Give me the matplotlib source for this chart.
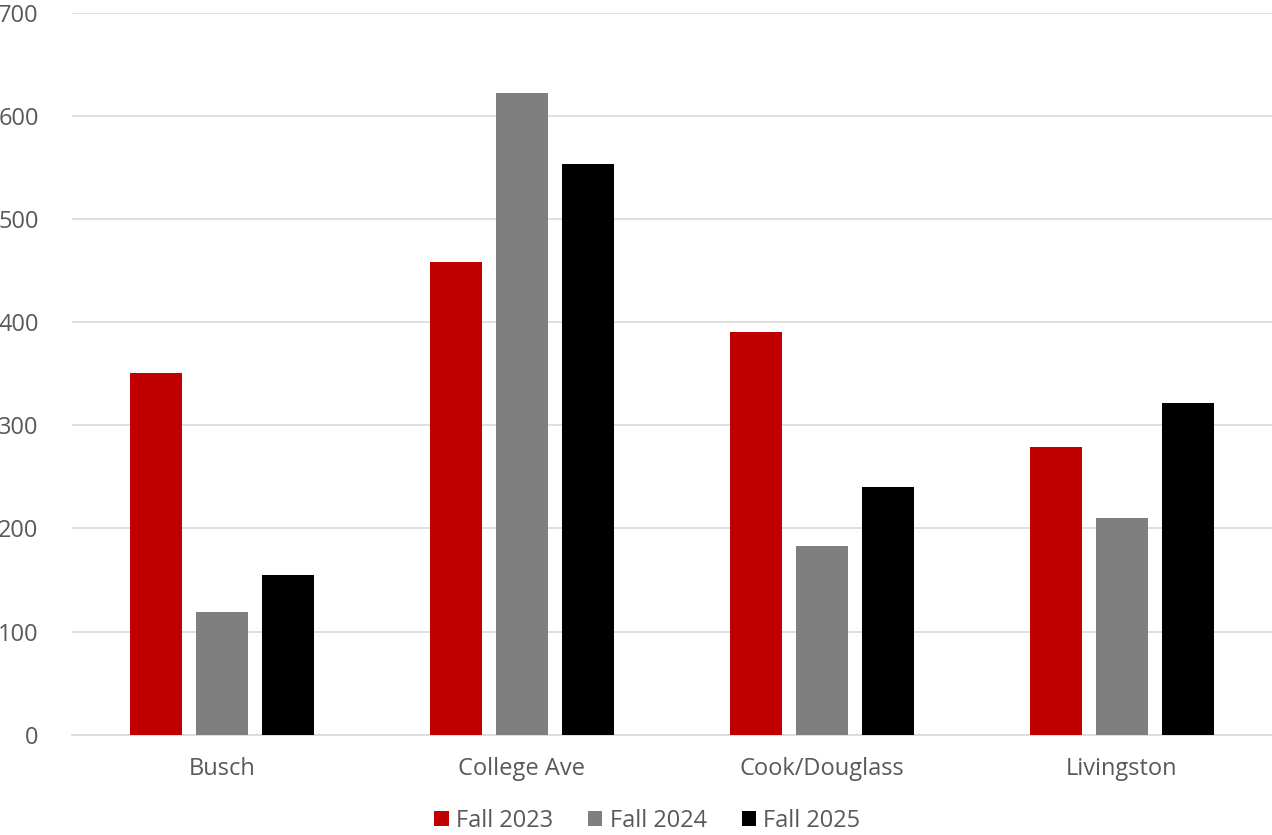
import matplotlib.pyplot as plt
import numpy as np

campuses = ["Busch", "College Ave", "Cook/Douglass", "Livingston"]
fall_2023 = [351, 458, 390, 279]
fall_2024 = [119, 622, 183, 210]
fall_2025 = [155, 553, 240, 322]

plt.rcParams["font.family"] = ["Open Sans", "DejaVu Sans"]
text_color = "#595959"

fig = plt.figure(figsize=(12.72, 8.35), dpi=100)
ax = fig.add_axes([0.0566, 0.12, 0.9434, 0.865])

x = np.arange(len(campuses))
width = 0.175
offset = 0.22
ax.bar(x - offset, fall_2023, width, color="#C00000", label="Fall 2023", zorder=3)
ax.bar(x, fall_2024, width, color="#7F7F7F", label="Fall 2024", zorder=3)
ax.bar(x + offset, fall_2025, width, color="#000000", label="Fall 2025", zorder=3)

ax.set_xlim(-0.5, 3.5)
ax.set_ylim(0, 700)
ax.set_yticks(np.arange(0, 701, 100))
ax.set_xticks(x)
ax.set_xticklabels(campuses)
ax.yaxis.grid(True, color="#D9D9D9", linewidth=1.2, zorder=0)
ax.tick_params(axis="both", length=0, labelsize=17, colors=text_color)
ax.tick_params(axis="x", pad=16)
ax.tick_params(axis="y", pad=24)
for side in ["top", "right", "left"]:
    ax.spines[side].set_visible(False)
ax.spines["bottom"].set_color("#D9D9D9")
ax.spines["bottom"].set_linewidth(1.2)

leg = fig.legend(loc="center", bbox_to_anchor=(0.509, 0.017), ncol=3, frameon=False,
                 fontsize=17, handlelength=0.6, handleheight=0.6, handletextpad=0.3,
                 columnspacing=1.5)
for t in leg.get_texts():
    t.set_color(text_color)

fig.savefig("out.png", dpi=100)
